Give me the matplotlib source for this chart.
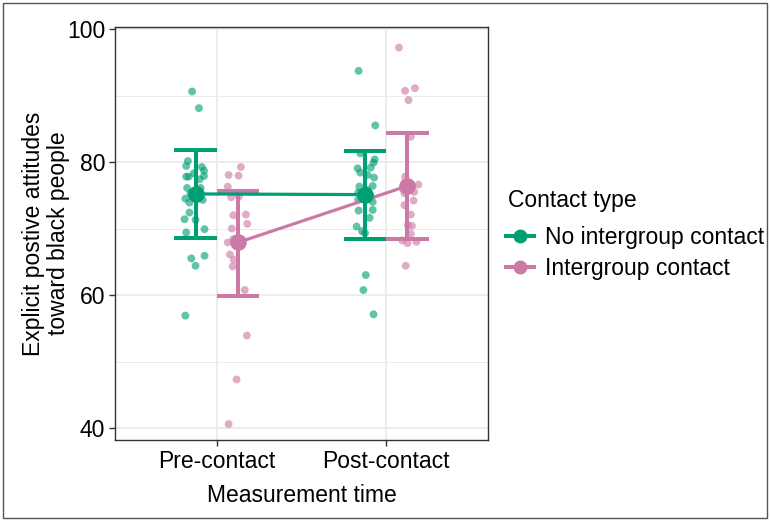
import numpy as np
import matplotlib.pyplot as plt
from matplotlib.lines import Line2D
from matplotlib.patches import Rectangle

plt.rcParams['font.family'] = ['Liberation Sans', 'DejaVu Sans']
plt.rcParams['font.size'] = 16.5

# Measurement times (discrete axis)
times = ["Pre-contact", "Post-contact"]
groups = ["No intergroup contact", "Intergroup contact"]
colors = {"No intergroup contact": "#009E73", "Intergroup contact": "#CC79A7"}

# Summary values: mean, lower, upper
means = {"No intergroup contact": [75.2, 75.1], "Intergroup contact": [67.9, 76.4]}
lower = {"No intergroup contact": [68.5, 68.4], "Intergroup contact": [59.9, 68.4]}
upper = {"No intergroup contact": [81.8, 81.7], "Intergroup contact": [75.7, 84.3]}

# Individual scores, with the horizontal jitter
green_pre = [90.6, 88.1, 80.15, 79.4, 79.25, 78.7, 78.3, 77.8, 77.8, 77.9, 77.4, 76.1, 76.1,
             74.5, 73.9, 74.3, 72.4, 71.4, 71.3, 69.4, 69.9, 65.5, 65.9, 64.4, 56.9, 75.3, 75.3, 75.8]
green_pre_jit = [-0.02, 0.02, -0.045, -0.055, 0.037, 0.05, -0.01, -0.04, -0.055, 0.05, 0.024, -0.05, 0.03,
                 -0.06, -0.036, 0.043, -0.036, -0.065, 0.0, -0.055, 0.053, -0.025, 0.053, 0.0, -0.06, -0.03, 0.03, 0.01]
pink_pre = [79.25, 78.05, 77.95, 76.3, 74.7, 74.8, 72.0, 72.1, 70.7, 70.0, 67.9, 68.4, 66.1, 65.3,
            64.3, 60.75, 53.9, 47.3, 40.6, 68.2, 67.5]
pink_pre_jit = [0.018, -0.055, 0.004, -0.06, -0.04, 0.006, -0.027, 0.047, 0.055, -0.036, -0.06, -0.027, -0.047, -0.024,
                -0.031, 0.04, 0.053, -0.008, -0.055, 0.02, -0.01]
green_post = [93.7, 85.5, 81.3, 80.4, 79.9, 79.05, 78.4, 79.15, 78.05, 77.65, 76.3, 76.4, 75.8, 74.3,
              74.0, 72.7, 72.8, 71.6, 70.3, 69.6, 69.3, 63.0, 60.75, 57.1, 75.4, 75.0]
green_post_jit = [-0.038, 0.06, -0.028, 0.057, 0.05, -0.044, -0.028, 0.033, 0.015, 0.053, -0.034, 0.045, 0.015, -0.041,
                  0.045, -0.038, 0.045, 0.027, -0.05, -0.018, 0.0, 0.004, -0.01, 0.05, -0.04, 0.03]
pink_post = [97.2, 90.7, 91.1, 89.3, 83.8, 77.8, 76.6, 75.5, 75.3, 74.2, 73.5, 72.1, 70.5, 70.4,
             69.2, 68.2, 67.8, 68.0, 64.4, 75.9]
pink_post_jit = [-0.05, -0.014, 0.044, 0.006, 0.02, -0.014, 0.064, 0.04, -0.018, 0.036, -0.018, 0.02, 0.002, 0.026,
                 0.02, -0.03, 0.0, 0.053, -0.01, -0.025]

raw = {
    "No intergroup contact": [(green_pre, green_pre_jit), (green_post, green_post_jit)],
    "Intergroup contact": [(pink_pre, pink_pre_jit), (pink_post, pink_post_jit)],
}
dodge = {"No intergroup contact": -0.125, "Intergroup contact": 0.125}

W, H = 770, 521
fig = plt.figure(figsize=(W / 100, H / 100), dpi=100)
ax_left, ax_right, ax_top, ax_bot = 115, 488, 27, 440
ax = fig.add_axes([ax_left / W, 1 - ax_bot / H, (ax_right - ax_left) / W, (ax_bot - ax_top) / H])

xpos = np.arange(1, len(times) + 1)

# raw points
for g in groups:
    for i, (vals, jit) in enumerate(raw[g]):
        xs = xpos[i] + dodge[g] + np.array(jit)
        ax.scatter(xs, vals, s=32, color=colors[g], alpha=0.62, edgecolors='none', zorder=2)

# error bars
for g in groups:
    for i in range(len(times)):
        x = xpos[i] + dodge[g]
        ax.plot([x, x], [lower[g][i], upper[g][i]], color=colors[g], lw=2.9, zorder=3, solid_capstyle='butt')
        for yv in (lower[g][i], upper[g][i]):
            ax.plot([x - 0.125, x + 0.125], [yv, yv], color=colors[g], lw=2.9, zorder=3, solid_capstyle='butt')

# lines and mean points
for g in groups:
    ax.plot(xpos + dodge[g], means[g], color=colors[g], lw=2.3, zorder=4)
for g in groups:
    ax.plot(xpos + dodge[g], means[g], 'o', color=colors[g], ms=11, zorder=5)

ax.set_xlim(0.4, 2.6)
ax.set_ylim(38.2, 100.3)
ax.set_xticks(xpos)
ax.set_xticklabels(times)
ax.set_yticks([40, 60, 80, 100])
ax.set_yticks([50, 70, 90], minor=True)
ax.grid(True, which='major', color='#EBEBEB', lw=1.3, zorder=0)
ax.grid(True, which='minor', axis='y', color='#EBEBEB', lw=0.7, zorder=0)
ax.set_axisbelow(True)
ax.tick_params(which='minor', length=0)
ax.tick_params(which='major', length=4, width=1, color='#333333', labelcolor='black', pad=3)
for s in ax.spines.values():
    s.set_color('#333333')
    s.set_linewidth(1)

ax.set_xlabel("Measurement time", labelpad=8)
ax.set_ylabel("Explicit postive attitudes\ntoward black people", labelpad=-2, linespacing=1.1)

# legend: title drawn separately to get ggplot-like spacing
fig.text(508 / W, 1 - 200 / H, "Contact type", ha='left', va='center')
handles = [Line2D([0], [0], color=colors[g], lw=2.9, marker='o', ms=9) for g in groups]
leg = fig.legend(handles, groups, loc='upper left',
                 bbox_to_anchor=(506 / W, 1 - 226 / H), frameon=False,
                 handlelength=1.2, handletextpad=0.5, labelspacing=0.36,
                 borderaxespad=0, borderpad=0)

fig.patches.append(Rectangle((3 / W, 3 / H), (W - 6) / W, (H - 6) / H, transform=fig.transFigure,
                             fill=False, edgecolor='#555555', lw=1))

fig.savefig("out.png", dpi=100)
